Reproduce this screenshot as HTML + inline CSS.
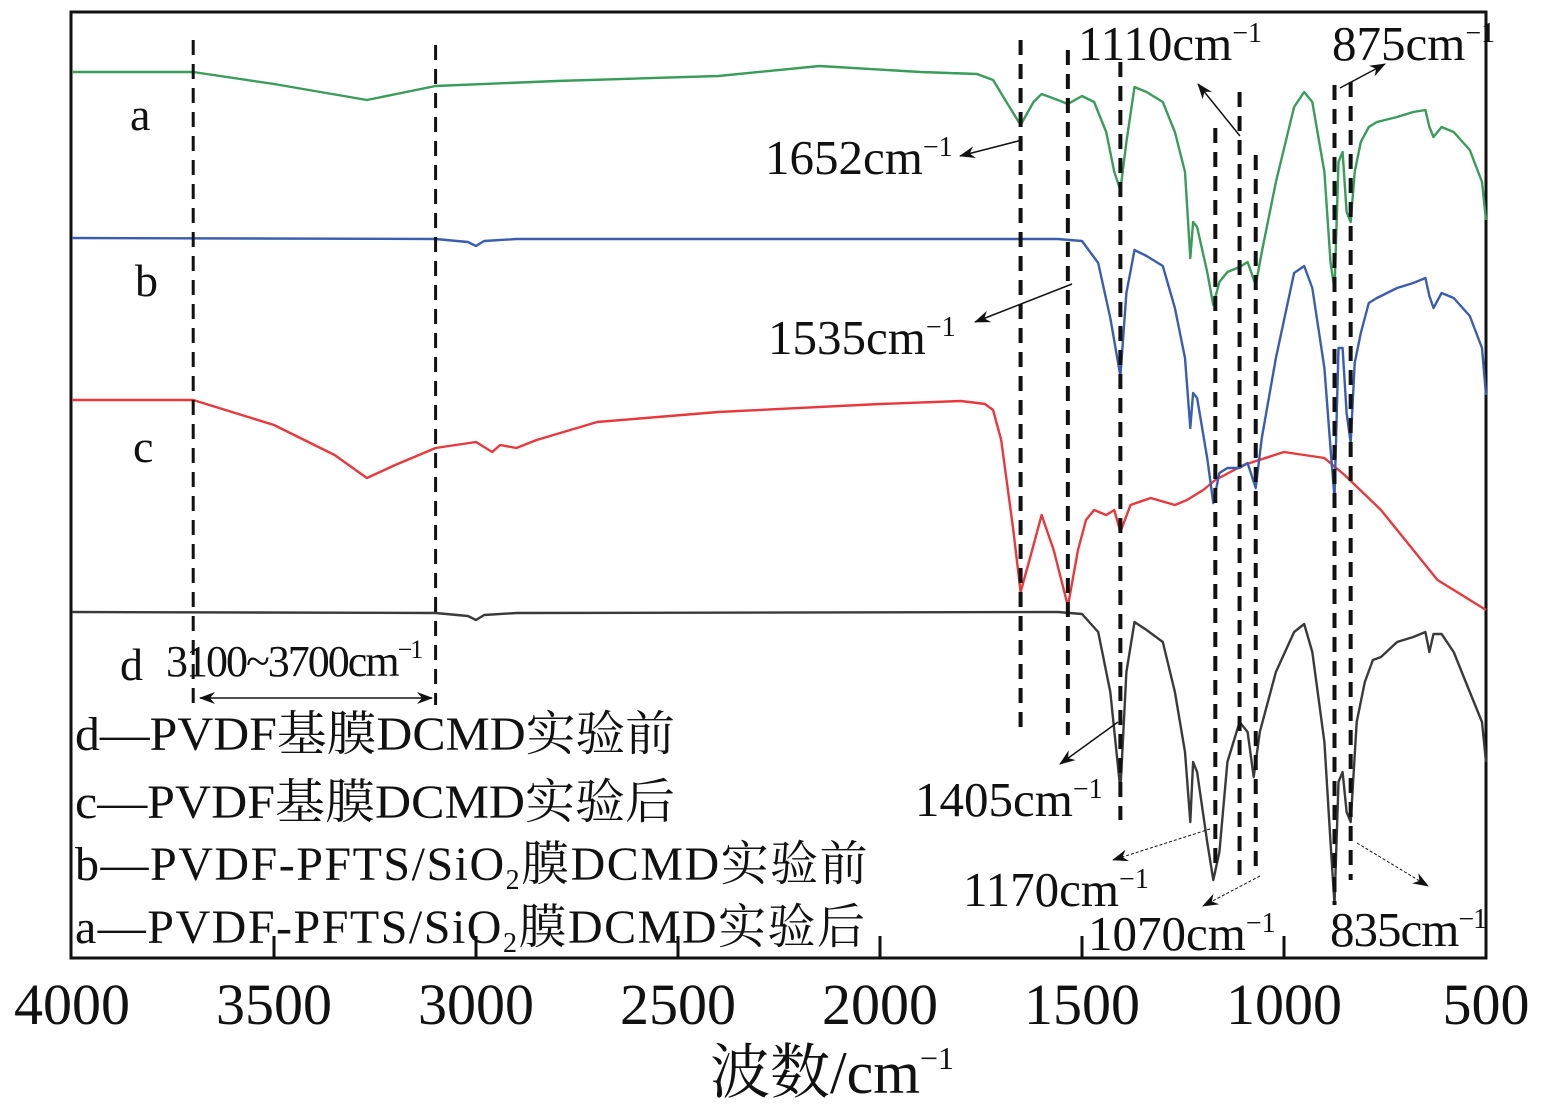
<!DOCTYPE html>
<html><head><meta charset="utf-8"><style>
html,body{margin:0;padding:0;background:#fff;}
svg{display:block;}
text{font-family:"Liberation Serif","Noto Serif CJK SC","Noto Sans CJK SC",serif;fill:#111;}
</style></head><body>
<svg id="chart" width="1542" height="1108" viewBox="0 0 1542 1108" xmlns="http://www.w3.org/2000/svg">
<defs>
<marker id="ah" markerWidth="16" markerHeight="12" refX="15" refY="6" orient="auto" markerUnits="userSpaceOnUse"><path d="M0,0 L16,6 L0,12 L5,6 Z" fill="#111"/></marker>
<marker id="ahs" markerWidth="16" markerHeight="12" refX="1" refY="6" orient="auto" markerUnits="userSpaceOnUse"><path d="M16,0 L0,6 L16,12 L11,6 Z" fill="#111"/></marker>
</defs>
<rect x="71" y="12" width="1415" height="946" fill="none" stroke="#111" stroke-width="3"/>
<g id="ticks"></g>
<g id="series"></g>
<g id="guides"></g>
<g id="annot" font-size="49">
<text x="130" y="130" font-size="46">a</text>
<text x="135" y="296" font-size="46">b</text>
<text x="133" y="462" font-size="46">c</text>
<text x="120" y="680" font-size="46">d</text>
<text x="166" y="676" font-size="44" letter-spacing="-2">3100~3700cm<tspan font-size="26" dy="-18">−1</tspan></text>
<line x1="200" y1="698" x2="432" y2="698" stroke="#111" stroke-width="1.5" marker-start="url(#ahs)" marker-end="url(#ah)"/>
<text x="75" y="750" font-size="48" textLength="600" lengthAdjust="spacingAndGlyphs">d—PVDF基膜DCMD实验前</text>
<text x="75" y="818" font-size="48" textLength="600" lengthAdjust="spacingAndGlyphs">c—PVDF基膜DCMD实验后</text>
<text x="75" y="880" font-size="48" letter-spacing="1.5">b—PVDF-PFTS/SiO<tspan font-size="28" dy="9">2</tspan><tspan dy="-9">膜DCMD实验前</tspan></text>
<text x="75" y="943" font-size="48" letter-spacing="1.5">a—PVDF-PFTS/SiO<tspan font-size="28" dy="9">2</tspan><tspan dy="-9">膜DCMD实验后</tspan></text>
<text x="765" y="174">1652cm<tspan font-size="28" dy="-18">−1</tspan></text>
<line x1="1022" y1="140" x2="960" y2="156" stroke="#111" stroke-width="1.5" marker-end="url(#ah)"/>
<text x="768" y="354">1535cm<tspan font-size="28" dy="-18">−1</tspan></text>
<line x1="1072" y1="284" x2="975" y2="322" stroke="#111" stroke-width="1.5" marker-end="url(#ah)"/>
<text x="1078" y="60">1110cm<tspan font-size="28" dy="-18">−1</tspan></text>
<line x1="1240" y1="136" x2="1198" y2="84" stroke="#111" stroke-width="1.5" marker-end="url(#ah)"/>
<text x="1332" y="60">875cm<tspan font-size="28" dy="-18">−1</tspan></text>
<line x1="1340" y1="88" x2="1385" y2="64" stroke="#111" stroke-width="1.5" marker-end="url(#ah)"/>
<text x="915" y="816">1405cm<tspan font-size="28" dy="-18">−1</tspan></text>
<line x1="1118" y1="722" x2="1060" y2="764" stroke="#111" stroke-width="1.5" marker-end="url(#ah)"/>
<text x="963" y="906">1170cm<tspan font-size="28" dy="-18">−1</tspan></text>
<line x1="1210" y1="829" x2="1113" y2="860" stroke="#111" stroke-width="1" stroke-dasharray="3,2" marker-end="url(#ah)"/>
<text x="1088" y="950">1070cm<tspan font-size="28" dy="-18">−1</tspan></text>
<line x1="1260" y1="876" x2="1203" y2="906" stroke="#111" stroke-width="1" stroke-dasharray="3,2" marker-end="url(#ah)"/>
<text x="1330" y="946" letter-spacing="-1">835cm<tspan font-size="28" dy="-18">−1</tspan></text>
<line x1="1357" y1="843" x2="1428" y2="886" stroke="#111" stroke-width="1" stroke-dasharray="3,2" marker-end="url(#ah)"/>
<text x="832" y="1093" font-size="60" text-anchor="middle">波数/cm<tspan font-size="32" dy="-24">−1</tspan></text>
</g>
</svg>
<script>
const xTicks=[4000,3500,3000,2500,2000,1500,1000,500];
const wnA=[4000,3800,3700,3500,3270,3100,2800,2400,2150,1900,1760,1720,1690,1652,1620,1600,1560,1535,1500,1470,1440,1420,1405,1390,1370,1340,1300,1270,1245,1232,1225,1215,1190,1175,1160,1140,1110,1090,1070,1055,1020,975,950,930,900,885,875,865,855,845,835,825,810,790,770,720,680,650,640,630,610,580,540,510,500];
const valA=[0,0,0,-12,-28,-14,-9,-4,6,0,-2,-8,-28,-53,-30,-22,-28,-32,-24,-30,-60,-100,-118,-70,-15,-20,-30,-60,-100,-186,-150,-155,-200,-233,-210,-200,-195,-190,-213,-180,-110,-35,-20,-30,-100,-190,-218,-90,-80,-140,-150,-100,-70,-55,-50,-45,-40,-38,-55,-65,-55,-60,-78,-110,-148];
const wnB=[4000,3100,3020,3000,2980,2900,1560,1500,1460,1430,1405,1390,1370,1340,1300,1270,1245,1232,1225,1215,1190,1175,1160,1140,1110,1090,1070,1055,1020,975,950,930,900,885,875,865,855,845,835,825,810,790,770,720,680,650,640,630,610,580,540,510,500];
const valB=[0,-1,-4,-8,-3,-1,-1,-3,-25,-80,-138,-55,-12,-18,-28,-70,-120,-190,-155,-160,-220,-265,-235,-230,-230,-225,-250,-200,-120,-35,-28,-50,-130,-210,-260,-110,-110,-175,-205,-125,-95,-65,-60,-50,-45,-40,-58,-70,-55,-60,-78,-110,-157];
const wnC=[4000,3800,3700,3500,3350,3270,3200,3100,3000,2960,2940,2900,2850,2700,2400,2000,1800,1740,1720,1700,1670,1652,1630,1600,1570,1535,1510,1490,1470,1440,1420,1405,1380,1330,1270,1240,1200,1170,1100,1000,900,850,760,700,620,560,500];
const valC=[0,0,0,-25,-55,-78,-65,-48,-42,-52,-45,-48,-40,-22,-12,-4,-1,-4,-10,-40,-130,-192,-160,-115,-150,-206,-150,-120,-110,-115,-110,-132,-105,-98,-105,-100,-90,-80,-65,-52,-58,-75,-110,-140,-180,-195,-210];
const wnD=[4000,3100,3020,3000,2980,2900,1560,1500,1460,1430,1405,1390,1370,1340,1300,1270,1245,1232,1225,1215,1190,1175,1160,1140,1110,1090,1075,1060,1020,975,950,930,900,885,875,865,855,845,835,820,800,780,760,720,680,650,640,630,610,580,540,510,500];
const valD=[0,-1,-4,-8,-3,-1,0,-2,-20,-80,-178,-60,-10,-18,-30,-80,-140,-210,-150,-160,-230,-268,-240,-150,-110,-120,-165,-120,-60,-20,-12,-40,-130,-230,-292,-170,-160,-200,-210,-110,-70,-48,-45,-30,-25,-20,-40,-22,-22,-40,-80,-110,-150];
const guideWn=[3700,3100,1652,1535,1405,1170,1110,1070,875,835];
const guideTop=[40,45,40,50,62,128,92,155,85,82];
const guideBot=[705,705,735,735,820,870,880,875,905,880];
const X0=72,X1=1486,W0=4000,W1=500;
function xs(w){return X0+(W0-w)/(W0-W1)*(X1-X0);}
function ys(v,base){return base-v;}
const NS="http://www.w3.org/2000/svg";
const tg=document.getElementById('ticks');
xTicks.forEach(t=>{
  const x=xs(t);
  if(t!==4000&&t!==500){
    const l=document.createElementNS(NS,'line');
    l.setAttribute('x1',x);l.setAttribute('x2',x);l.setAttribute('y1',958);l.setAttribute('y2',936);
    l.setAttribute('stroke','#111');l.setAttribute('stroke-width','3');
    
    
    tg.appendChild(l);
  }
  const tx=document.createElementNS(NS,'text');
  tx.setAttribute('x',x);tx.setAttribute('y',1024);tx.setAttribute('text-anchor','middle');tx.setAttribute('font-size','58');
  tx.textContent=t;
  
  
  tg.appendChild(tx);
});
const sg=document.getElementById('series');
function draw(wn,val,base,color,name){
  const p=document.createElementNS(NS,'path');
  let d='';
  wn.forEach((w,i)=>{d+=(i?'L':'M')+xs(w).toFixed(1)+','+ys(val[i],base).toFixed(1);});
  p.setAttribute('d',d);p.setAttribute('fill','none');p.setAttribute('stroke',color);p.setAttribute('stroke-width','2.4');
  p.setAttribute('stroke-linejoin','round');
  
  
  sg.appendChild(p);
}
draw(wnC,valC,400,'#e8383d','series-c');
draw(wnD,valD,612,'#3a3a3a','series-d');
draw(wnB,valB,238,'#3b5db0','series-b');
draw(wnA,valA,72,'#3a9c5a','series-a');
const gg=document.getElementById('guides');
guideWn.forEach((w,i)=>{
  const l=document.createElementNS(NS,'line');
  const x=xs(w);
  l.setAttribute('x1',x);l.setAttribute('x2',x);l.setAttribute('y1',guideTop[i]);l.setAttribute('y2',guideBot[i]);
  l.setAttribute('stroke','#111');l.setAttribute('stroke-width',i<2?'3':'4');l.setAttribute('stroke-dasharray','15,9');
  
  
  gg.appendChild(l);
});
</script>
</body></html>
